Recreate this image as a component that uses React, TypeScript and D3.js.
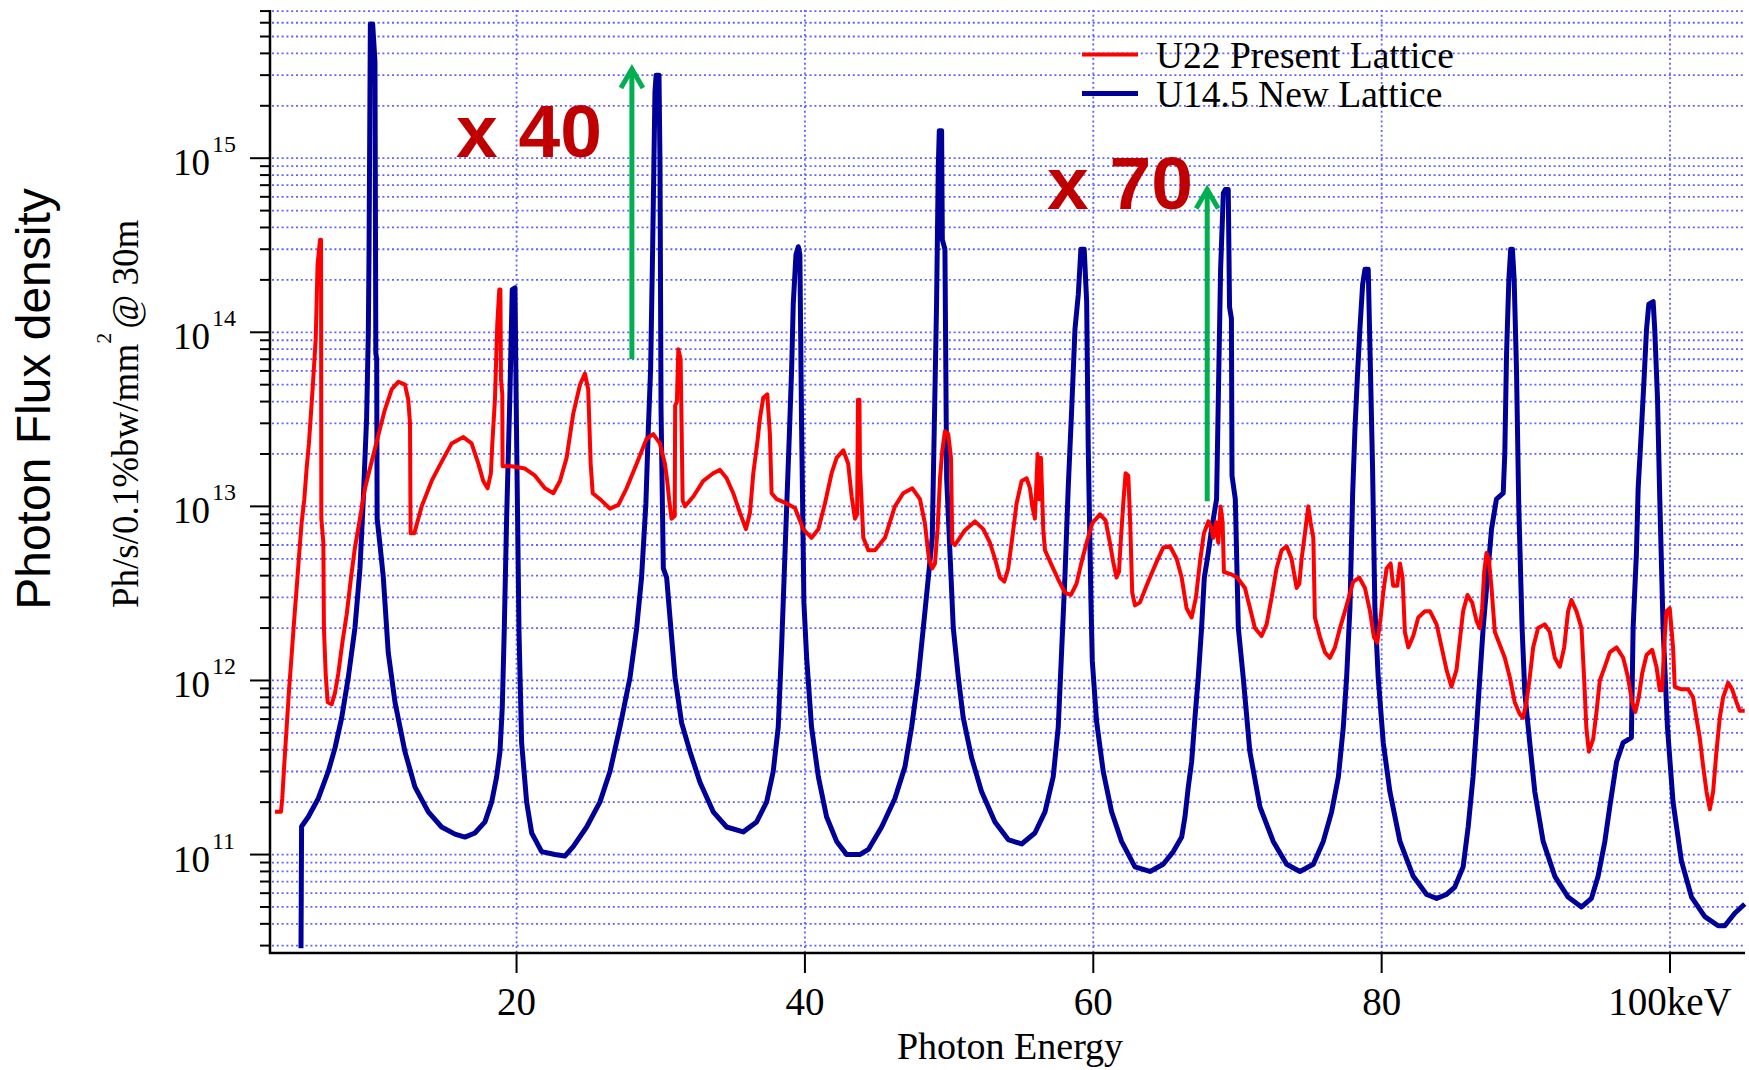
import React from "react";
import * as d3 from "d3";

// ---- Data (photon energy in keV, photon flux density) ----
const u22Points: [number, number][] = [
  [3.25, 1.76e11], [3.66, 1.76e11], [3.75, 2.1e11], [3.89, 3.3e11], [4.05, 5.3e11], [4.22, 8.8e11],
  [4.4, 1.4e12], [4.59, 2.3e12], [4.75, 3.4e12], [4.93, 5.4e12], [5.09, 8.0e12], [5.28, 1.1e13],
  [5.44, 1.65e13], [5.6, 2.3e13], [5.74, 3.4e13], [5.9, 5.4e13], [6.07, 9.1e13], [6.2, 2.45e14],
  [6.37, 3.4e14], [6.44, 3.4e14], [6.46, 8.5e12], [6.6, 6.2e12], [6.64, 2.0e12], [6.76, 1.1e12],
  [6.9, 7.5e11], [7.18, 7.3e11], [7.41, 8.5e11], [7.64, 1.1e12], [7.92, 1.65e12], [8.22, 2.4e12],
  [8.52, 3.9e12], [8.79, 5.8e12], [9.14, 8.5e12], [9.49, 1.27e13], [9.83, 1.65e13], [10.18, 2.15e13],
  [10.53, 2.8e13], [10.87, 3.6e13], [11.34, 4.7e13], [11.8, 5.2e13], [12.26, 5.0e13], [12.49, 4.1e13],
  [12.61, 3.0e13], [12.65, 7.0e12], [12.91, 7.0e12], [13.42, 1.0e13], [14.11, 1.4e13], [14.8, 1.8e13],
  [15.5, 2.3e13], [16.31, 2.5e13], [16.88, 2.3e13], [17.35, 1.76e13], [17.69, 1.4e13], [17.99, 1.27e13],
  [18.22, 1.55e13], [18.32, 2.3e13], [18.5, 4.1e13], [18.66, 1.1e14], [18.8, 1.76e14], [18.88, 1.76e14],
  [18.92, 5.4e13], [19.01, 4.4e13], [19.03, 1.7e13], [19.66, 1.7e13], [20.58, 1.65e13], [21.28, 1.5e13],
  [21.97, 1.27e13], [22.55, 1.19e13], [23.01, 1.4e13], [23.47, 1.9e13], [23.93, 3.4e13], [24.4, 5.0e13],
  [24.74, 5.8e13], [24.97, 4.7e13], [25.14, 1.76e13], [25.28, 1.19e13], [25.9, 1.08e13], [26.48, 9.7e12],
  [27.06, 1.02e13], [27.63, 1.27e13], [28.33, 1.76e13], [29.02, 2.45e13], [29.48, 2.6e13], [29.94, 2.3e13],
  [30.29, 1.76e13], [30.45, 1.4e13], [30.59, 1.08e13], [30.75, 8.5e12], [30.97, 8.8e12], [31.0, 3.8e13],
  [31.12, 4.0e13], [31.22, 8.0e13], [31.38, 7.0e13], [31.52, 1.08e13], [31.68, 1.0e13], [32.26, 1.14e13],
  [32.95, 1.4e13], [33.64, 1.55e13], [34.11, 1.62e13], [34.57, 1.45e13], [35.03, 1.19e13], [35.49, 9.2e12],
  [35.91, 7.4e12], [36.19, 9.2e12], [36.42, 1.55e13], [36.69, 2.3e13], [36.88, 3.2e13], [37.11, 4.2e13],
  [37.39, 4.4e13], [37.57, 2.6e13], [37.69, 1.19e13], [38.04, 1.1e13], [38.73, 1.04e13], [39.31, 9.8e12],
  [39.88, 7.4e12], [40.46, 6.6e12], [40.93, 7.4e12], [41.39, 1.04e13], [41.85, 1.55e13], [42.2, 1.9e13],
  [42.66, 2.1e13], [43.0, 1.76e13], [43.24, 1.14e13], [43.47, 8.5e12], [43.62, 9.0e12], [43.68, 4.1e13],
  [43.78, 4.1e13], [43.82, 1.65e13], [44.05, 6.6e12], [44.4, 5.6e12], [44.86, 5.6e12], [45.55, 6.6e12],
  [46.24, 1.0e13], [46.82, 1.19e13], [47.45, 1.27e13], [47.98, 1.1e13], [48.32, 8.0e12], [48.6, 5.0e12],
  [48.83, 4.4e12], [49.02, 4.7e12], [49.2, 7.4e12], [49.37, 1.45e13], [49.53, 2.1e13], [49.71, 2.7e13],
  [49.94, 2.6e13], [50.13, 1.9e13], [50.22, 6.2e12], [50.4, 6.0e12], [51.1, 7.3e12], [51.79, 8.2e12],
  [52.37, 7.4e12], [52.83, 6.2e12], [53.18, 5.0e12], [53.53, 3.9e12], [53.83, 3.7e12], [54.1, 4.4e12],
  [54.38, 6.6e12], [54.68, 1.04e13], [55.03, 1.4e13], [55.38, 1.45e13], [55.61, 1.27e13], [55.77, 1.0e13],
  [55.95, 8.5e12], [56.14, 2.0e13], [56.25, 1.1e13], [56.37, 1.9e13], [56.53, 7.4e12], [56.65, 5.6e12],
  [57.11, 4.6e12], [57.57, 3.8e12], [58.03, 3.2e12], [58.45, 3.1e12], [58.84, 3.6e12], [59.19, 4.8e12],
  [59.54, 6.2e12], [59.93, 8.0e12], [60.46, 9.0e12], [60.85, 8.3e12], [61.15, 6.2e12], [61.38, 4.8e12],
  [61.61, 3.9e12], [61.78, 4.2e12], [61.92, 6.6e12], [62.08, 1.04e13], [62.24, 1.55e13], [62.43, 1.5e13],
  [62.56, 8.0e12], [62.7, 3.2e12], [62.89, 2.7e12], [63.23, 2.8e12], [63.81, 3.7e12], [64.39, 4.8e12],
  [64.85, 5.8e12], [65.32, 5.9e12], [65.78, 5.0e12], [66.13, 3.9e12], [66.47, 2.6e12], [66.82, 2.3e12],
  [67.12, 3.0e12], [67.4, 4.8e12], [67.67, 7.0e12], [67.98, 8.2e12], [68.21, 7.4e12], [68.32, 6.6e12],
  [68.51, 8.1e12], [68.67, 6.2e12], [68.83, 1.0e13], [68.97, 8.1e12], [69.06, 4.2e12], [69.48, 4.1e12],
  [69.99, 3.9e12], [70.52, 3.4e12], [70.87, 2.6e12], [71.21, 2.0e12], [71.67, 1.8e12], [72.02, 2.1e12],
  [72.37, 3.0e12], [72.71, 4.4e12], [73.06, 5.6e12], [73.41, 5.9e12], [73.75, 5.0e12], [74.1, 3.4e12],
  [74.29, 3.6e12], [74.45, 5.0e12], [74.68, 7.0e12], [74.91, 1.0e13], [75.07, 8.1e12], [75.26, 6.6e12],
  [75.37, 2.3e12], [75.72, 1.78e12], [76.07, 1.45e12], [76.41, 1.35e12], [76.76, 1.55e12], [77.11, 2.0e12],
  [77.57, 2.7e12], [78.03, 3.7e12], [78.45, 3.9e12], [78.84, 3.4e12], [79.19, 2.5e12], [79.46, 1.78e12],
  [79.7, 1.65e12], [79.93, 2.3e12], [80.11, 3.2e12], [80.34, 4.4e12], [80.62, 4.7e12], [80.8, 3.5e12],
  [81.08, 3.5e12], [81.27, 4.7e12], [81.45, 3.9e12], [81.61, 1.9e12], [81.85, 1.55e12], [82.19, 1.8e12],
  [82.54, 2.3e12], [83.0, 2.5e12], [83.35, 2.5e12], [83.81, 2.1e12], [84.16, 1.55e12], [84.5, 1.15e12],
  [84.84, 9.2e11], [85.19, 1.15e12], [85.42, 1.7e12], [85.65, 2.5e12], [85.95, 3.1e12], [86.28, 2.8e12],
  [86.58, 2.2e12], [86.81, 2.0e12], [86.97, 2.6e12], [87.11, 4.2e12], [87.27, 5.4e12], [87.43, 5.0e12],
  [87.62, 3.4e12], [87.85, 1.9e12], [88.2, 1.6e12], [88.54, 1.35e12], [88.89, 1.04e12], [89.23, 7.5e11],
  [89.58, 6.4e11], [89.81, 6.1e11], [90.04, 7.5e11], [90.27, 1.04e12], [90.51, 1.55e12], [90.85, 2.0e12],
  [91.31, 2.1e12], [91.66, 1.9e12], [92.01, 1.35e12], [92.36, 1.2e12], [92.66, 1.55e12], [92.93, 2.5e12],
  [93.16, 2.9e12], [93.51, 2.5e12], [93.86, 2.0e12], [94.04, 1.04e12], [94.2, 5.3e11], [94.37, 3.9e11],
  [94.67, 4.6e11], [94.9, 6.6e11], [95.13, 1.0e12], [95.48, 1.2e12], [95.82, 1.45e12], [96.29, 1.55e12],
  [96.75, 1.35e12], [97.09, 1.04e12], [97.37, 7.5e11], [97.6, 6.6e11], [97.83, 8.0e11], [98.07, 1.1e12],
  [98.37, 1.4e12], [98.76, 1.5e12], [99.06, 1.2e12], [99.29, 8.8e11], [99.45, 8.8e11], [99.59, 1.55e12],
  [99.75, 2.5e12], [99.98, 2.6e12], [100.21, 1.55e12], [100.33, 9.2e11], [100.79, 8.9e11], [101.26, 8.9e11],
  [101.6, 8.0e11], [101.83, 6.1e11], [102.06, 4.7e11], [102.3, 3.2e11], [102.53, 2.3e11], [102.76, 1.82e11],
  [102.99, 2.3e11], [103.22, 3.9e11], [103.45, 6.1e11], [103.68, 8.0e11], [104.03, 9.7e11], [104.31, 8.9e11],
  [104.61, 7.5e11], [104.84, 6.7e11], [105.18, 6.7e11],
];

const u145Points: [number, number][] = [
  [5.05, 2.9e10], [5.09, 1.45e11], [5.56, 1.65e11], [6.25, 2.1e11], [6.94, 3.0e11], [7.41, 4.1e11],
  [7.87, 6.1e11], [8.33, 1.04e12], [8.79, 2.0e12], [9.14, 4.4e12], [9.37, 1.1e13], [9.6, 3.2e13],
  [9.72, 1.0e14], [9.77, 3.0e14], [9.86, 5.9e15], [10.02, 5.9e15], [10.18, 3.6e15], [10.24, 7.6e13],
  [10.3, 7.0e13], [10.33, 8.5e12], [10.53, 6.0e12], [10.76, 3.9e12], [11.1, 1.45e12], [11.57, 7.5e11],
  [12.26, 3.9e11], [12.95, 2.45e11], [13.88, 1.76e11], [14.8, 1.44e11], [15.73, 1.31e11], [16.42, 1.26e11],
  [17.11, 1.33e11], [17.81, 1.54e11], [18.27, 2.0e11], [18.62, 2.8e11], [18.85, 3.9e11], [19.01, 7.0e11],
  [19.15, 2.0e12], [19.31, 8.5e12], [19.54, 4.4e13], [19.7, 1.76e14], [19.89, 1.8e14], [20.0, 2.6e13],
  [20.17, 1.9e12], [20.35, 4.4e11], [20.7, 2.0e11], [21.05, 1.33e11], [21.74, 1.04e11], [22.66, 1.0e11],
  [23.35, 9.8e10], [23.93, 1.11e11], [24.86, 1.44e11], [25.78, 2.0e11], [26.48, 3.0e11], [27.17, 5.4e11],
  [27.87, 1.04e12], [28.33, 2.0e12], [28.67, 3.9e12], [28.97, 1.04e13], [29.14, 2.8e13], [29.3, 6.2e13],
  [29.44, 3.1e14], [29.6, 2.4e15], [29.68, 3.0e15], [29.88, 3.0e15], [29.95, 8.9e14], [30.02, 3.6e13],
  [30.18, 4.4e12], [30.41, 3.9e12], [30.64, 2.3e12], [30.99, 1.04e12], [31.45, 5.7e11], [32.03, 3.9e11],
  [32.72, 2.6e11], [33.64, 1.76e11], [34.57, 1.44e11], [35.72, 1.35e11], [36.65, 1.54e11], [37.34, 2.0e11],
  [37.8, 3.0e11], [38.15, 5.4e11], [38.38, 1.54e12], [38.68, 7.5e12], [38.91, 2.45e13], [39.08, 6.2e13],
  [39.19, 1.45e14], [39.38, 2.8e14], [39.54, 3.1e14], [39.65, 2.8e14], [39.77, 2.8e13], [39.93, 2.8e12],
  [40.12, 1.35e12], [40.46, 5.4e11], [40.93, 2.8e11], [41.5, 1.65e11], [42.2, 1.19e11], [42.89, 1.0e11],
  [43.81, 1.0e11], [44.4, 1.07e11], [45.32, 1.44e11], [46.24, 2.1e11], [46.94, 3.2e11], [47.4, 5.4e11],
  [47.86, 1.04e12], [48.21, 2.0e12], [48.56, 3.9e12], [48.83, 6.6e12], [48.97, 2.8e13], [49.13, 1.45e14],
  [49.25, 9.0e14], [49.32, 1.44e15], [49.48, 1.44e15], [49.53, 3.4e14], [49.71, 3.0e14], [49.83, 1.45e13],
  [50.06, 5.4e12], [50.29, 2.0e12], [50.64, 1.04e12], [50.98, 6.1e11], [51.56, 3.6e11], [52.25, 2.3e11],
  [53.18, 1.54e11], [54.1, 1.22e11], [55.03, 1.15e11], [55.95, 1.33e11], [56.65, 1.76e11], [57.22, 2.8e11],
  [57.57, 5.4e11], [57.8, 1.45e12], [58.03, 3.9e12], [58.26, 1.27e13], [58.5, 3.6e13], [58.73, 1.04e14],
  [58.96, 1.65e14], [59.14, 3.0e14], [59.37, 3.0e14], [59.54, 1.5e14], [59.65, 2.15e13], [59.84, 2.8e12],
  [59.93, 1.3e12], [60.23, 5.8e11], [60.69, 3.0e11], [61.27, 1.76e11], [61.96, 1.19e11], [62.89, 8.5e10],
  [63.93, 8.0e10], [64.85, 8.8e10], [65.55, 1.04e11], [66.13, 1.26e11], [66.36, 1.65e11], [66.59, 2.45e11],
  [66.82, 3.4e11], [67.05, 6.1e11], [67.28, 1.04e12], [67.51, 2.0e12], [67.7, 3.9e12], [67.91, 5.0e12],
  [68.21, 7.4e12], [68.55, 1.1e13], [68.67, 4.1e13], [68.83, 2.3e14], [69.02, 6.3e14], [69.15, 6.6e14],
  [69.36, 6.6e14], [69.45, 1.4e14], [69.58, 1.2e14], [69.62, 1.5e13], [69.85, 1.1e13], [70.06, 2.0e12],
  [70.4, 1.04e12], [70.86, 3.9e11], [71.56, 1.88e11], [72.48, 1.19e11], [73.41, 8.8e10], [74.33, 8.0e10],
  [75.26, 8.8e10], [75.95, 1.19e11], [76.53, 1.76e11], [77.0, 2.8e11], [77.34, 5.4e11], [77.57, 1.04e12],
  [77.8, 2.6e12], [77.99, 1.19e13], [78.15, 2.8e13], [78.31, 5.4e13], [78.49, 1.04e14], [78.68, 1.88e14],
  [78.84, 2.3e14], [79.07, 2.3e14], [79.19, 8.0e13], [79.37, 1.65e13], [79.53, 2.6e12], [79.76, 1.04e12],
  [80.11, 4.4e11], [80.57, 2.3e11], [81.27, 1.19e11], [82.19, 7.5e10], [83.12, 5.9e10], [83.81, 5.6e10],
  [84.5, 5.9e10], [85.07, 6.5e10], [85.65, 8.5e10], [86.0, 1.44e11], [86.34, 2.8e11], [86.58, 5.4e11],
  [86.81, 1.04e12], [87.04, 2.0e12], [87.39, 4.4e12], [87.62, 7.4e12], [87.96, 1.1e13], [88.43, 1.19e13],
  [88.54, 2.0e13], [88.66, 7.4e13], [88.82, 2.0e14], [88.95, 3.0e14], [89.07, 3.0e14], [89.19, 2.0e14],
  [89.35, 6.2e13], [89.51, 1.0e13], [89.74, 2.0e12], [89.93, 8.5e11], [90.27, 4.4e11], [90.62, 2.3e11],
  [91.2, 1.19e11], [92.01, 7.5e10], [92.93, 5.7e10], [93.86, 5.0e10], [94.55, 5.6e10], [95.01, 7.5e10],
  [95.48, 1.19e11], [95.82, 1.88e11], [96.29, 3.4e11], [96.75, 4.4e11], [97.32, 4.7e11], [97.44, 2.0e12],
  [97.67, 5.4e12], [97.79, 1.27e13], [98.02, 2.8e13], [98.2, 5.4e13], [98.37, 1.04e14], [98.53, 1.45e14],
  [98.83, 1.5e14], [98.94, 1.04e14], [99.13, 4.2e13], [99.29, 1.1e13], [99.52, 2.0e12], [99.82, 5.4e11],
  [100.21, 2.0e11], [100.79, 9.2e10], [101.49, 5.7e10], [102.41, 4.4e10], [103.34, 3.9e10], [103.8, 3.9e10],
  [104.49, 4.6e10], [105.18, 5.2e10],
];

const seriesNames = ["U22 Present Lattice", "U14.5 New Lattice"];
const seriesColors = ["#ff0000", "#000099"];
const xTickValues = [20, 40, 60, 80, 100];
const xTickLabels = ["20", "40", "60", "80", "100keV"];
const yMajorExponents = [11, 12, 13, 14, 15];
const annotationTexts = ["x 40", "x 70"];
// arrows: energy (keV), start flux, tip flux
const arrowEnergy = [28.0, 67.9];
const arrowStartFlux = [7.0e13, 1.07e13];
const arrowTipFlux = [3.3e15, 6.7e14];

const W = 1749;
const H = 1070;
const SERIF = "'Liberation Serif', 'Times New Roman', serif";
const SANS = "'Liberation Sans', Arial, sans-serif";
const GRID = "#6262ff";

export default function App() {
  const left = 270, right = 1745, top = 10, bottom = 953;
  const x = d3.scaleLinear().domain([2.9, 105.2]).range([left, right]);
  const y = d3.scaleLog().domain([2.72e10, 7.1e15]).range([bottom, top]);
  const [ylo, yhi] = y.domain();

  const minorTicks: { v: number; major: boolean }[] = [];
  for (let e = 10; e <= 15; e++) {
    for (let m = 1; m <= 9; m++) {
      const v = m * Math.pow(10, e);
      if (v >= ylo * 0.999 && v <= yhi) minorTicks.push({ v, major: m === 1 });
    }
  }

  const line = d3
    .line<[number, number]>()
    .x((d) => x(d[0]))
    .y((d) => y(d[1]));

  return (
    <svg
      width={W}
      height={H}
      viewBox={`0 0 ${W} ${H}`}
      style={{ position: "absolute", left: 0, top: 0, background: "#fff" }}
    >
      <rect x={0} y={0} width={W} height={H} fill="#fff" />
      {/* grid */}
      <g stroke={GRID} strokeWidth={1.8} strokeDasharray="2 2.8" fill="none">
        {minorTicks.map((t, i) => (
          <line key={"gh" + i} x1={left + 2} x2={right} y1={y(t.v)} y2={y(t.v)} />
        ))}
        {xTickValues.map((v, i) => (
          <line key={"gv" + i} x1={x(v)} x2={x(v)} y1={top} y2={bottom} />
        ))}
      </g>

      {/* series */}
      <path d={line(u145Points) || ""} fill="none" stroke={seriesColors[1]} strokeWidth={5} strokeLinejoin="round" />
      <path d={line(u22Points) || ""} fill="none" stroke={seriesColors[0]} strokeWidth={4} strokeLinejoin="round" />

      {/* axes */}
      <g stroke="#000" strokeWidth={2.5} fill="none">
        <line x1={left} x2={left} y1={top} y2={bottom + 1} />
        <line x1={left - 1} x2={right} y1={bottom} y2={bottom} />
        {minorTicks.map((t, i) => (
          <line key={"yt" + i} x1={left - (t.major ? 20 : 10)} x2={left} y1={y(t.v)} y2={y(t.v)} strokeWidth={2} />
        ))}
        {xTickValues.map((v, i) => (
          <line key={"xt" + i} x1={x(v)} x2={x(v)} y1={bottom} y2={bottom + 20} strokeWidth={2} />
        ))}
      </g>

      {/* y tick labels */}
      {yMajorExponents.map((e) => {
        const yy = y(Math.pow(10, e));
        return (
          <g key={"yl" + e} fontFamily={SERIF} fill="#000">
            <text x={210} y={yy + 17} fontSize={37} textAnchor="end">10</text>
            <text x={212} y={yy - 6} fontSize={24}>{e}</text>
          </g>
        );
      })}

      {/* x tick labels */}
      {xTickValues.map((v, i) => (
        <text key={"xl" + i} x={x(v)} y={1015} fontSize={39} fontFamily={SERIF} textAnchor="middle" fill="#000">
          {xTickLabels[i]}
        </text>
      ))}

      {/* axis titles */}
      <text x={1010} y={1059} fontSize={38} fontFamily={SERIF} textAnchor="middle" fill="#000">Photon Energy</text>
      <text transform="translate(50,399) rotate(-90)" fontSize={48} fontFamily={SANS} textAnchor="middle" fill="#000">
        Photon Flux density
      </text>
      <text transform="translate(138,608) rotate(-90)" fontSize={37} fontFamily={SERIF} textAnchor="start" fill="#000">
        Ph/s/0.1%bw/mm
        <tspan dy={-27} fontSize={22}>2</tspan>
        <tspan dy={27} dx={4}>@ 30m</tspan>
      </text>

      {/* legend */}
      <line x1={1082} x2={1138} y1={54.5} y2={54.5} stroke={seriesColors[0]} strokeWidth={4} />
      <line x1={1082} x2={1138} y1={93.5} y2={93.5} stroke={seriesColors[1]} strokeWidth={5} />
      <text x={1156} y={68} fontSize={37.5} fontFamily={SERIF} fill="#000">{seriesNames[0]}</text>
      <text x={1156} y={106.5} fontSize={37.5} fontFamily={SERIF} fill="#000">{seriesNames[1]}</text>

      {/* annotations */}
      <text x={456} y={157} fontSize={75} fontWeight="bold" fontFamily={SANS} fill="#c00000">{annotationTexts[0]}</text>
      <text x={1047} y={209} fontSize={75} fontWeight="bold" fontFamily={SANS} fill="#c00000">{annotationTexts[1]}</text>
      {arrowEnergy.map((e, i) => {
        const ax = x(e);
        const y0 = y(arrowStartFlux[i]);
        const y1 = y(arrowTipFlux[i]);
        return (
          <g key={"ar" + i} stroke="#00b050" strokeWidth={5} fill="none" strokeLinejoin="miter">
            <line x1={ax} x2={ax} y1={y0} y2={y1 + 2} />
            <polyline points={`${ax - 11},${y1 + 20} ${ax},${y1 + 1} ${ax + 11},${y1 + 20}`} />
          </g>
        );
      })}
    </svg>
  );
}
